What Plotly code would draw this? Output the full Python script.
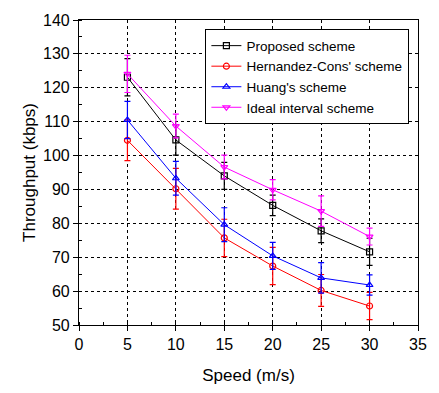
import plotly.graph_objects as go

speed = [5, 10, 15, 20, 25, 30]
proposed = [123.1, 104.6, 94.0, 85.3, 77.8, 71.6]
proposed_err = [5.5, 4.5, 4.0, 3.0, 3.5, 4.0]
hernandez = [104.5, 90.2, 75.7, 67.4, 60.2, 55.6]
hernandez_err = [6.0, 6.0, 5.5, 5.5, 4.7, 4.0]
huang = [110.5, 93.3, 79.6, 70.4, 63.9, 61.8]
huang_err = [5.5, 5.0, 5.0, 4.0, 4.5, 3.0]
ideal = [124.1, 108.7, 96.6, 89.9, 83.6, 76.1]
ideal_err = [5.5, 3.5, 3.5, 3.0, 4.5, 2.5]

series = [
    ("Proposed scheme", proposed, proposed_err, "black", "square-open"),
    ("Hernandez-Cons' scheme", hernandez, hernandez_err, "red", "circle-open"),
    ("Huang's scheme", huang, huang_err, "blue", "triangle-up-open"),
    ("Ideal interval scheme", ideal, ideal_err, "magenta", "triangle-down-open"),
]

fig = go.Figure()
for name, y, err, col, sym in series:
    fig.add_trace(go.Scatter(
        x=speed, y=y, name=name, mode="lines+markers",
        line=dict(color=col, width=1),
        marker=dict(symbol=sym, size=6, color=col, line=dict(width=1.2, color=col)),
        error_y=dict(type="data", array=err, visible=True, color=col, thickness=1.2, width=3),
    ))

font = "Liberation Sans, Arial, sans-serif"
fig.update_layout(
    width=439, height=393,
    margin=dict(l=79, r=17, t=17, b=65),
    paper_bgcolor="white", plot_bgcolor="white",
    font=dict(family=font, color="black", size=14),
    showlegend=True,
    legend=dict(x=0.974, y=0.97, xanchor="right", yanchor="top",
                bordercolor="black", borderwidth=1.2, bgcolor="white",
                font=dict(size=13.5, family=font), tracegroupgap=0,
                itemwidth=30),
    xaxis=dict(range=[0, 35], dtick=5, showline=True, linecolor="black", linewidth=1.2,
               mirror=True, ticks="outside", ticklen=5, tickcolor="black",
               showgrid=True, gridcolor="black", griddash="dot", gridwidth=1,
               zeroline=False, tickfont=dict(size=16),
               minor=dict(dtick=2.5, ticks="inside", ticklen=3, tickcolor="black", showgrid=False),
               title=dict(text="Speed (m/s)", font=dict(size=17), standoff=16)),
    yaxis=dict(range=[50, 140], dtick=10, showline=True, linecolor="black", linewidth=1.2,
               mirror=True, ticks="outside", ticklen=5, tickcolor="black",
               showgrid=True, gridcolor="black", griddash="dot", gridwidth=1,
               zeroline=False, tickfont=dict(size=16),
               minor=dict(dtick=5, ticks="inside", ticklen=3, tickcolor="black", showgrid=False),
               title=dict(text="Throughput (kbps)", font=dict(size=17), standoff=3)),
)
fig.write_html("out.html")
